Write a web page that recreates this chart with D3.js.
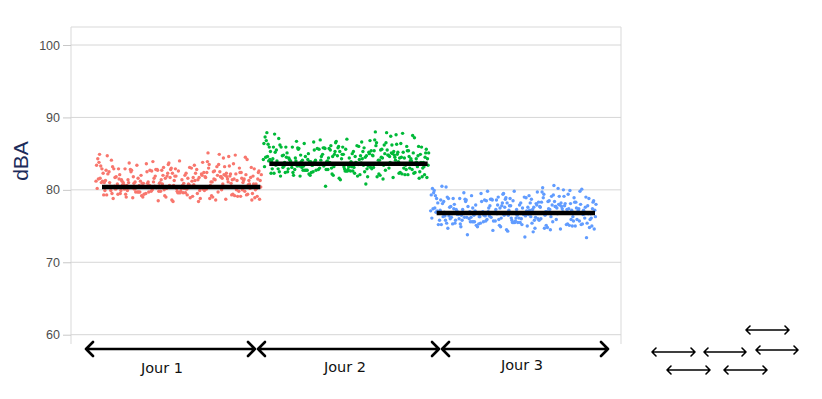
<!DOCTYPE html>
<html><head><meta charset="utf-8">
<script src="https://cdn.jsdelivr.net/npm/d3@7"></script>
<style>body{margin:0;background:#fff}svg{display:block}</style>
</head><body>
<svg id="c" width="822" height="399"></svg>
<script>
// ---- data ----
const days = ["Jour 1", "Jour 2", "Jour 3"];
const dayMeans = [80.4, 83.6, 76.8];
const yTicks = [60, 70, 80, 90, 100];
const jour1 = [
81.2,79.8,82.4,80.6,78.9,81.7,83.1,80.2,79.4,82.0,81.5,80.9,79.1,82.8,81.3,80.0,83.6,79.7,81.9,80.4,
82.3,79.2,80.8,81.6,84.9,80.1,78.6,82.5,81.1,79.9,83.0,80.7,81.8,79.5,82.2,80.3,81.4,78.8,83.4,81.0,
80.5,82.7,79.3,81.2,80.9,83.8,79.6,82.1,80.2,81.5,78.4,82.9,80.6,81.7,79.0,84.2,80.8,81.3,79.8,82.4,
81.9,80.0,82.6,79.4,81.1,83.3,80.4,78.7,82.0,81.6,79.7,83.5,80.9,81.4,82.8,79.2,80.6,85.1,81.0,79.9,
82.1,80.3,81.8,79.5,83.2,80.7,82.5,78.9,81.3,80.1,82.9,79.6,81.5,84.0,80.4,81.9,79.1,82.3,80.8,83.7,
80.2,81.6,79.3,82.7,81.0,78.5,83.0,80.5,82.2,79.8,81.4,80.9,84.6,79.4,82.0,81.2,80.0,83.4,79.7,81.8,
82.6,80.3,81.1,79.0,83.9,80.7,82.4,81.5,78.8,80.1,82.8,79.5,81.7,80.4,83.1,79.9,82.3,81.0,80.6,84.3,
79.6,81.3,82.9,80.2,78.6,81.9,83.5,80.8,79.2,82.1,81.4,80.0,82.7,79.8,81.6,84.8,80.5,79.3,82.5,81.1,
80.9,83.2,79.7,81.8,80.3,82.0,78.9,81.5,83.7,80.6,79.4,82.4,81.2,80.1,82.9,79.9,81.7,80.4,84.1,79.1,
82.2,80.7,81.0,79.6,83.3,81.4,80.2,82.6,78.7,81.9,80.8,83.0,79.5,82.3,81.3,80.0,84.5,79.8,81.6,82.8,
80.4,81.1,79.2,82.7,80.9,83.6,81.5,79.0,82.1,80.6,81.8,79.7,83.2,80.3,82.5,81.0,78.8,82.9,80.1,81.4,
83.8,79.4,81.7,80.5,82.3,79.9,81.2,84.7,80.8,79.3,82.0,81.6,80.2,83.4,79.6,82.6,81.3,80.0,82.8,78.6,
81.9,80.7,83.1,79.8,81.0,82.4,80.3,79.1,83.9,81.5,80.6,82.2,79.5,81.8,80.9,84.4,79.7,82.5,81.1,80.4,
82.7,79.0,81.4,83.5,80.1,81.7,79.9,82.0,80.8,78.4,82.9,81.3,80.5,83.0,79.3,81.6,82.3,80.2,84.9,79.8
];
const jour2 = [
84.2,82.9,85.1,83.6,81.8,84.7,86.0,83.2,82.4,85.5,84.0,83.9,82.1,85.8,84.4,83.0,86.4,82.7,84.9,83.4,
85.3,82.2,83.8,84.6,87.9,83.1,81.5,85.6,84.1,82.8,86.1,83.7,84.8,82.5,85.2,83.3,84.5,81.9,86.6,84.0,
83.5,85.9,82.3,84.2,83.9,86.8,82.6,85.1,83.2,84.5,81.4,85.9,83.6,84.7,82.0,87.2,83.8,84.3,82.8,85.4,
84.9,83.0,85.6,82.4,84.1,86.3,83.4,81.7,85.0,84.6,82.7,86.5,83.9,84.4,85.8,82.2,83.6,88.0,84.0,82.9,
85.1,83.3,84.8,82.5,86.2,83.7,85.5,81.9,84.3,83.1,85.9,82.6,84.5,87.0,83.4,84.9,82.1,85.3,83.8,86.7,
83.2,84.6,82.3,85.7,84.0,80.5,86.0,83.5,85.2,82.8,84.4,83.9,87.6,82.4,85.0,84.2,83.0,86.4,82.7,84.8,
85.6,83.3,84.1,82.0,86.9,83.7,85.4,84.5,81.8,83.1,85.8,82.5,84.7,83.4,86.1,82.9,85.3,84.0,83.6,87.3,
82.6,84.3,85.9,83.2,81.6,84.9,86.5,83.8,82.2,85.1,84.4,83.0,85.7,82.8,84.6,87.8,83.5,82.3,85.5,84.1,
83.9,86.2,82.7,84.8,83.3,85.0,81.9,84.5,86.7,83.6,82.4,85.4,84.2,83.1,85.9,82.9,84.7,83.4,87.1,82.1,
85.2,83.7,84.0,82.6,86.3,84.4,83.2,85.6,81.7,84.9,83.8,86.0,82.5,85.3,84.3,83.0,87.5,82.8,84.6,85.8,
83.4,84.1,82.2,85.7,83.9,86.6,84.5,82.0,85.1,83.6,84.8,82.7,86.2,83.3,85.5,84.0,81.8,85.9,83.1,84.4,
86.8,82.4,84.7,83.5,85.3,82.9,84.2,87.7,83.8,82.3,85.0,84.6,83.2,86.4,82.6,85.6,84.3,83.0,85.8,81.6,
84.9,83.7,86.1,82.8,84.0,85.4,83.3,82.1,86.9,84.5,83.6,85.2,82.5,84.8,83.9,87.4,82.7,85.5,84.1,83.4,
85.7,82.0,84.4,86.5,83.1,84.7,82.9,85.0,83.8,80.8,85.9,84.3,83.5,86.0,82.3,84.6,85.3,83.2,87.9,82.8
];
const jour3 = [
77.1,75.8,78.3,76.5,74.8,77.6,79.0,76.1,75.3,77.9,77.4,76.8,75.0,78.7,77.2,75.9,79.4,75.6,77.8,76.3,
78.2,75.1,76.7,77.5,80.6,76.0,74.5,78.4,77.0,75.8,78.9,76.6,77.7,75.4,78.1,76.2,77.3,74.7,79.2,76.9,
76.4,78.6,75.2,77.1,76.8,79.6,75.5,78.0,76.1,77.4,74.3,78.8,76.5,77.6,74.9,80.1,76.7,77.2,75.7,78.3,
77.8,75.9,78.5,75.3,77.0,79.1,76.3,74.6,77.9,77.5,75.6,79.3,76.8,77.3,78.7,75.1,76.5,80.3,76.9,75.8,
78.0,76.2,77.7,75.4,79.0,76.6,78.4,73.5,77.2,76.0,78.8,75.5,77.4,79.8,76.3,77.8,75.0,78.2,76.7,79.5,
76.1,77.5,75.2,78.6,76.9,74.4,78.9,76.4,78.1,75.7,77.3,76.8,80.0,75.3,77.9,77.1,75.9,79.2,75.6,77.7,
78.5,76.2,77.0,74.9,79.7,76.6,78.3,77.4,74.7,76.0,78.7,75.4,77.6,76.3,79.0,75.8,78.2,76.9,76.5,80.2,
75.5,77.2,78.8,76.1,74.5,77.8,79.4,76.7,75.1,78.0,77.3,75.9,78.6,75.7,77.5,79.9,76.4,75.2,78.4,77.0,
76.8,79.1,75.6,77.7,76.2,77.9,73.8,77.4,79.6,76.5,75.3,78.3,77.1,76.0,78.8,75.8,77.6,76.3,80.4,75.0,
78.1,76.6,76.9,75.5,79.2,77.3,76.1,78.5,74.6,77.8,76.7,78.9,75.4,78.2,77.2,75.9,79.8,75.7,77.5,78.7,
76.3,77.0,75.1,78.6,76.8,79.5,77.4,74.9,78.0,76.5,77.7,75.6,79.1,76.2,78.4,76.9,74.7,78.8,76.0,77.3,
79.7,75.3,77.6,76.4,78.2,75.8,77.1,80.5,76.7,75.2,77.9,77.5,76.1,79.3,75.5,78.5,77.2,75.9,78.7,73.4,
77.8,76.6,79.0,75.7,76.9,78.3,76.2,75.0,79.8,77.4,76.5,78.1,75.4,77.7,76.8,80.2,75.6,78.4,77.0,76.3,
78.6,74.8,77.3,79.4,76.0,77.6,75.8,77.9,76.7,74.2,78.8,77.2,76.4,78.9,75.2,77.5,78.2,76.1,79.9,75.7
];
const series = [jour1, jour2, jour3];
const colors = ["#F8766D", "#00BA38", "#619CFF"];

// ---- drawing ----
const svg = d3.select("#c");
const L = 71, R = 621, T = 27, B = 344;
const y = d3.scaleLinear().domain([60, 100]).range([334.7, 45]);
const x = d3.scaleBand().domain(days).range([95, 597]).padding(0);

// frame
const frame = svg.append("g").attr("stroke", "#d9d9d9").attr("stroke-width", 1).attr("fill", "none");
frame.append("line").attr("x1", L).attr("x2", L).attr("y1", T).attr("y2", B);
frame.append("line").attr("x1", R).attr("x2", R).attr("y1", T).attr("y2", B);
frame.append("line").attr("x1", L).attr("x2", R).attr("y1", T).attr("y2", T);

// grid
svg.append("g").selectAll("line").data(yTicks).join("line")
  .attr("x1", L).attr("x2", R)
  .attr("y1", d => y(d)).attr("y2", d => y(d))
  .attr("stroke", "#d6d6d6").attr("stroke-width", 1);

// y axis
const ya = svg.append("g").attr("transform", `translate(${L},0)`)
  .call(d3.axisLeft(y).tickValues(yTicks).tickSize(8).tickPadding(3));
ya.select(".domain").remove();
ya.selectAll(".tick line").attr("stroke", "#c8c8c8");
ya.selectAll(".tick text").attr("fill", "#4d4d4d").style("font-family", "Arial, 'Liberation Sans', sans-serif").style("font-size", "12.5px");

svg.append("text").attr("transform", "translate(28,161) rotate(-90)")
  .attr("text-anchor", "middle").attr("fill", "#1c2b5a")
  .style("font-family", "Arial, 'Liberation Sans', sans-serif").style("font-size", "21px")
  .text("dBA");

// points (sample order spread across each day's band)
series.forEach((vals, i) => {
  const n = vals.length;
  const xi = d3.scaleLinear().domain([0, n - 1])
    .range([x(days[i]) + 1, x(days[i]) + x.bandwidth() - 1]);
  svg.append("g").selectAll("circle").data(vals).join("circle")
    .attr("cx", (d, k) => xi((k * 137) % n))
    .attr("cy", d => y(d))
    .attr("r", 1.7)
    .attr("fill", colors[i]);
});

// mean lines
svg.append("g").selectAll("line").data(dayMeans).join("line")
  .attr("x1", (d, i) => x(days[i]) + 7)
  .attr("x2", (d, i) => x(days[i]) + x.bandwidth() - 2)
  .attr("y1", d => y(d)).attr("y2", d => y(d))
  .attr("stroke", "#000").attr("stroke-width", 4.5);

// double arrows
function dblArrow(g, x1, x2, yy, h, sw) {
  const p = d3.path();
  p.moveTo(x1, yy); p.lineTo(x2, yy);
  p.moveTo(x1 + h, yy - h); p.lineTo(x1, yy); p.lineTo(x1 + h, yy + h);
  p.moveTo(x2 - h, yy - h); p.lineTo(x2, yy); p.lineTo(x2 - h, yy + h);
  g.append("path").attr("d", p.toString()).attr("fill", "none")
    .attr("stroke", "#000").attr("stroke-width", sw)
    .attr("stroke-linecap", "round").attr("stroke-linejoin", "round");
}
const ag = svg.append("g");
const stops = [86, 256, 440, 609];
days.forEach((d, i) => {
  dblArrow(ag, stops[i] + (i ? 2 : 0), stops[i + 1] - 1, 349, 7, 2.6);
});
const labelX = [162, 345, 522];
const labelY = [373, 372, 370];
ag.selectAll("text").data(days).join("text")
  .attr("x", (d, i) => labelX[i]).attr("y", (d, i) => labelY[i])
  .attr("text-anchor", "middle").attr("fill", "#111")
  .style("font-family", "'DejaVu Sans', Verdana, sans-serif").style("font-size", "14.5px")
  .text(d => d);

// small decorative arrows (bottom right)
const small = [[746, 789, 330], [652, 695, 352], [704, 746, 352], [756, 798, 350], [667, 710, 370], [724, 767, 370]];
small.forEach(s => dblArrow(ag, s[0], s[1], s[2], 4, 1.6));
</script>
</body></html>
